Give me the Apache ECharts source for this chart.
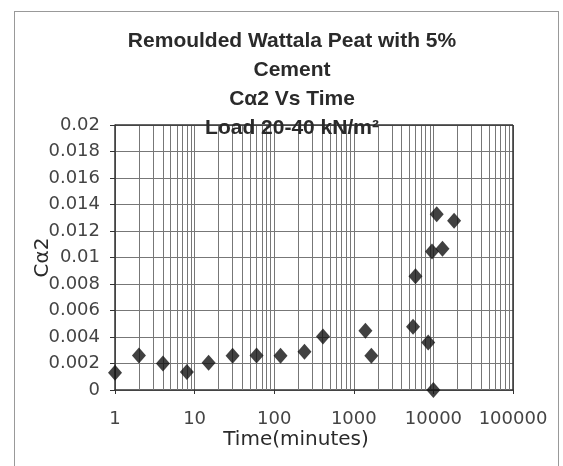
<!DOCTYPE html>
<html>
<head>
<meta charset="utf-8">
<script src="https://cdn.jsdelivr.net/npm/echarts@6/dist/echarts.min.js"></script>
<style>
  html, body { margin: 0; padding: 0; background: #fff; }
  #frame { position: absolute; left: 14px; top: 11px; width: 545px; height: 470px; border: 1px solid #999; box-sizing: border-box; }
  #chart { width: 563px; height: 466px; }
</style>
</head>
<body>
<div id="frame"></div>
<div id="chart"></div>
<script>
// time in minutes vs C-alpha2
const timeMin = [1, 2, 4, 8, 15, 30, 60, 120, 240, 410, 1400, 1660, 5550, 5950, 8600, 10000, 9600, 11000, 13000, 18200]
const calpha2 = [0.0013, 0.0026, 0.002, 0.00135, 0.00205, 0.00258, 0.0026, 0.00258, 0.00288, 0.00403,
  0.00447, 0.00258, 0.00477, 0.00858, 0.00359, 0, 0.01045, 0.01326, 0.01066, 0.01278]
const yTicks = [0, 0.002, 0.004, 0.006, 0.008, 0.01, 0.012, 0.014, 0.016, 0.018, 0.02]
const decades = [1, 10, 100, 1000, 10000, 100000]

// log-paper minor lines 2..9 in each decade
const minorX = []
decades.slice(0, -1).forEach(d => {
  for (let k = 2; k <= 9; k++) minorX.push(d * k)
})

const chart = echarts.init(document.getElementById('chart'))
const textFont = 'DejaVu Sans, sans-serif'

chart.setOption({
  animation: false,
  title: {
    text: 'Remoulded Wattala Peat with 5%\nCement\nC\u03b12 Vs Time\nLoad 20-40 kN/m\u00b2',
    left: 287,
    top: 22,
    textAlign: 'center',
    textStyle: { fontSize: 21, fontWeight: 'bold', color: '#2a2a2a', fontFamily: 'Liberation Sans, Arial, sans-serif', lineHeight: 29 }
  },
  grid: { left: 115, right: 50, top: 125, bottom: 76 },
  xAxis: {
    type: 'log',
    logBase: 10,
    min: 1,
    max: 100000,
    name: 'Time(minutes)',
    nameLocation: 'middle',
    nameGap: 40,
    nameMoveOverlap: false,
    nameTextStyle: { fontSize: 20, color: '#2a2a2a', fontFamily: textFont, padding: [0, 36, 0, 0] },
    axisLine: { lineStyle: { color: '#333', width: 1.5 } },
    axisTick: { show: true, length: 4, lineStyle: { color: '#333' } },
    axisLabel: { fontSize: 18, color: '#444', fontFamily: textFont, margin: 20, formatter: v => String(v) },
    splitLine: { show: true, lineStyle: { color: '#777', width: 1 } }
  },
  yAxis: {
    type: 'value',
    min: 0,
    max: 0.02,
    interval: 0.002,
    name: 'C\u03b12',
    nameLocation: 'middle',
    nameGap: 62,
    nameMoveOverlap: false,
    nameTextStyle: { fontSize: 20, color: '#2a2a2a', fontFamily: textFont },
    axisLine: { show: true, lineStyle: { color: '#333', width: 1.5 } },
    axisTick: { show: true, length: 5, lineStyle: { color: '#333' } },
    axisLabel: { fontSize: 18, color: '#444', fontFamily: textFont, margin: 15,
      formatter: v => yTicks.find(t => Math.abs(t - v) < 1e-9).toString() },
    splitLine: { show: true, lineStyle: { color: '#777', width: 1 } }
  },
  series: [{
    type: 'scatter',
    data: timeMin.map((t, i) => [t, calpha2[i]]),
    symbol: 'diamond',
    symbolSize: [14, 16],
    itemStyle: { color: '#111' },
    z: 5,
    markLine: {
      silent: true,
      symbol: 'none',
      label: { show: false },
      lineStyle: { color: '#777', width: 1, type: 'solid' },
      data: minorX.map(x => ({ xAxis: x }))
    }
  }, {
    // plot frame on top and right
    type: 'line',
    data: [],
    markLine: {
      silent: true,
      symbol: 'none',
      label: { show: false },
      lineStyle: { color: '#333', width: 1.5, type: 'solid' },
      data: [{ yAxis: 0.02 }, { xAxis: 100000 }]
    }
  }]
})
</script>
</body>
</html>
